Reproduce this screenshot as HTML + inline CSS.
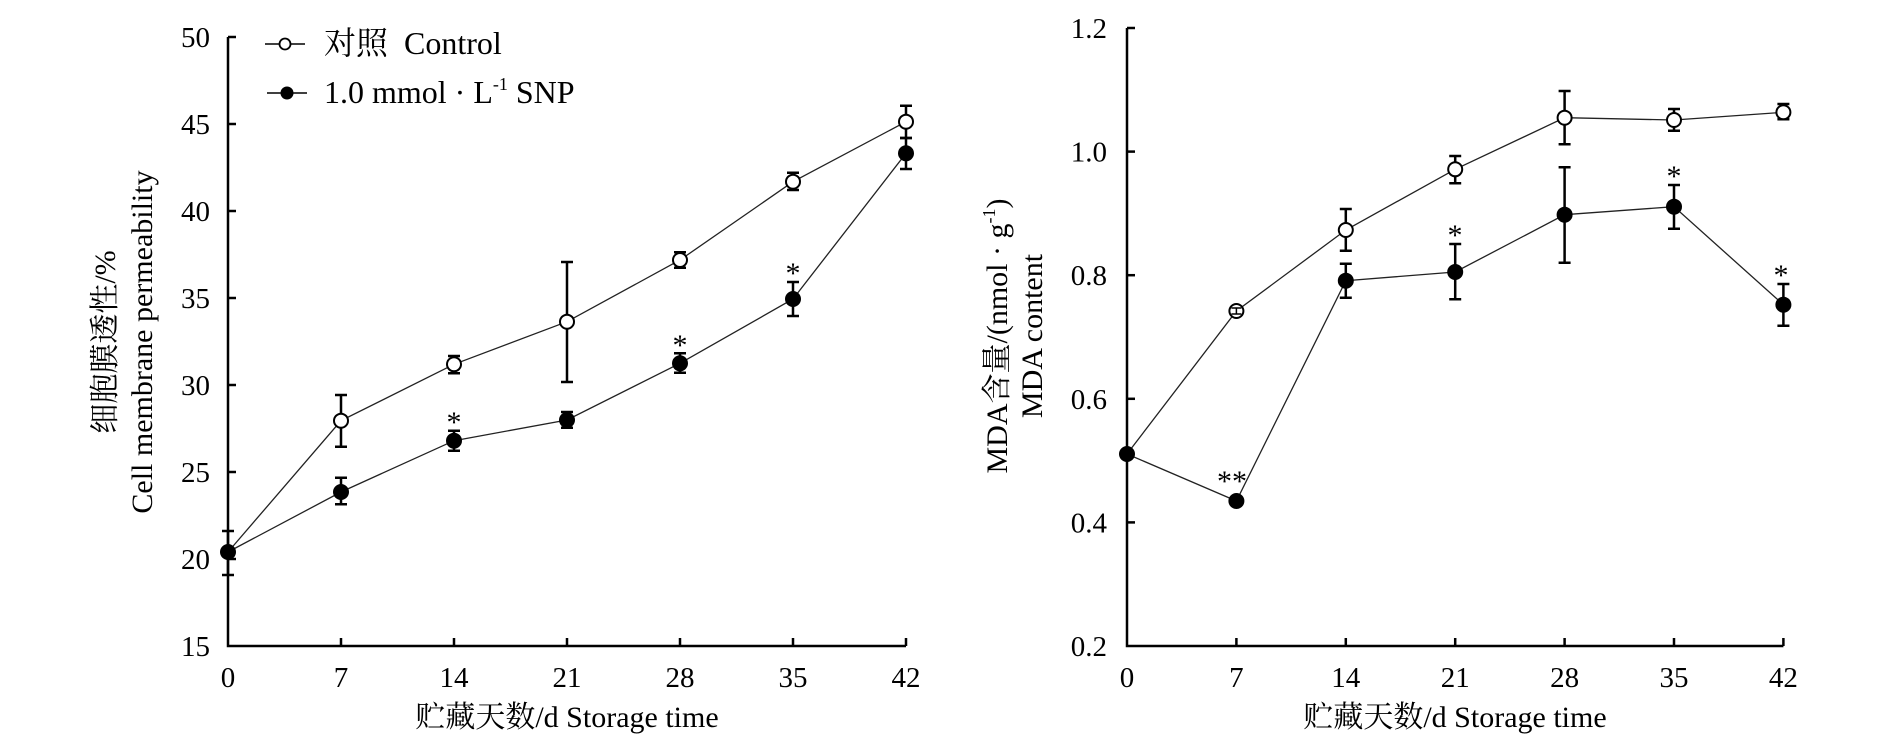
<!DOCTYPE html>
<html><head><meta charset="utf-8"><style>
html,body{margin:0;padding:0;background:#fff;}
svg{display:block;}
text{font-family:"Liberation Serif","Noto Serif CJK SC",serif;fill:#000;}
</style></head><body>
<svg width="1890" height="745" viewBox="0 0 1890 745" xmlns="http://www.w3.org/2000/svg">
<!-- ========== LEFT CHART ========== -->
<g stroke="#000" stroke-width="2.5" fill="none">
  <polyline points="228,37 228,646 906,646"/>
  <line x1="228" y1="37" x2="236" y2="37"/>
  <line x1="228" y1="124" x2="236" y2="124"/>
  <line x1="228" y1="211" x2="236" y2="211"/>
  <line x1="228" y1="298" x2="236" y2="298"/>
  <line x1="228" y1="385" x2="236" y2="385"/>
  <line x1="228" y1="472" x2="236" y2="472"/>
  <line x1="228" y1="559" x2="236" y2="559"/>
  <line x1="341" y1="646" x2="341" y2="638"/>
  <line x1="454" y1="646" x2="454" y2="638"/>
  <line x1="567" y1="646" x2="567" y2="638"/>
  <line x1="680" y1="646" x2="680" y2="638"/>
  <line x1="793" y1="646" x2="793" y2="638"/>
  <line x1="906" y1="646" x2="906" y2="638"/>
</g>
<g font-size="29" text-anchor="end">
  <text x="210" y="47">50</text>
  <text x="210" y="134">45</text>
  <text x="210" y="221">40</text>
  <text x="210" y="308">35</text>
  <text x="210" y="395">30</text>
  <text x="210" y="482">25</text>
  <text x="210" y="569">20</text>
  <text x="210" y="656">15</text>
</g>
<g font-size="29" text-anchor="middle">
  <text x="228" y="687">0</text>
  <text x="341" y="687">7</text>
  <text x="454" y="687">14</text>
  <text x="567" y="687">21</text>
  <text x="680" y="687">28</text>
  <text x="793" y="687">35</text>
  <text x="906" y="687">42</text>
</g>
<text x="567" y="727" font-size="30" text-anchor="middle">贮藏天数/d Storage time</text>
<text x="115" y="342" font-size="30" text-anchor="middle" transform="rotate(-90 115 342)">细胞膜透性/%</text>
<text x="152" y="342" font-size="30" text-anchor="middle" transform="rotate(-90 152 342)">Cell membrane permeability</text>

<g stroke="#222" stroke-width="1.3" fill="none">
  <polyline points="228,552 341,420.7 454,364.3 567,321.7 680,260 793,181.7 906,121.7"/>
  <polyline points="228,552 341,492 454,440.7 567,420 680,363.3 793,299 906,153.3"/>
</g>
<g stroke="#000" stroke-width="2.5" fill="none">
  <path d="M228,531V575M222,531H234M222,575H234"/>
  <path d="M341,395V446.7M335,395H347M335,446.7H347"/>
  <path d="M454,356V373.3M448,356H460M448,373.3H460"/>
  <path d="M567,262V382M561,262H573M561,382H573"/>
  <path d="M680,252.3V267.7M674,252.3H686M674,267.7H686"/>
  <path d="M793,172.7V190M787,172.7H799M787,190H799"/>
  <path d="M906,105.7V138M900,105.7H912M900,138H912"/>
  <path d="M341,477.7V504.3M335,477.7H347M335,504.3H347"/>
  <path d="M454,430.7V450.7M448,430.7H460M448,450.7H460"/>
  <path d="M567,412V427.7M561,412H573M561,427.7H573"/>
  <path d="M680,353.3V372.7M674,353.3H686M674,372.7H686"/>
  <path d="M793,282V316M787,282H799M787,316H799"/>
  <path d="M906,138V169M900,138H912M900,169H912"/>
</g>
<g fill="#fff" stroke="#000" stroke-width="2">
  <circle cx="341" cy="420.7" r="7"/>
  <circle cx="454" cy="364.3" r="7"/>
  <circle cx="567" cy="321.7" r="7"/>
  <circle cx="680" cy="260" r="7"/>
  <circle cx="793" cy="181.7" r="7"/>
  <circle cx="906" cy="121.7" r="7"/>
</g>
<g fill="#000">
  <circle cx="228" cy="552" r="8"/>
  <circle cx="341" cy="492" r="8"/>
  <circle cx="454" cy="440.7" r="8"/>
  <circle cx="567" cy="420" r="8"/>
  <circle cx="680" cy="363.3" r="8"/>
  <circle cx="793" cy="299" r="8"/>
  <circle cx="906" cy="153.3" r="8"/>
</g>
<g font-size="30" text-anchor="middle">
  <text x="454" y="432">*</text>
  <text x="680" y="355">*</text>
  <text x="793" y="283">*</text>
</g>
<line x1="265" y1="44" x2="305" y2="44" stroke="#000" stroke-width="1.5"/>
<circle cx="285" cy="44" r="5.5" fill="#fff" stroke="#000" stroke-width="1.8"/>
<text x="324" y="54" font-size="32">对照&#160; Control</text>
<line x1="267" y1="93" x2="307" y2="93" stroke="#000" stroke-width="1.5"/>
<circle cx="287" cy="93" r="6.5" fill="#000"/>
<text x="324" y="103" font-size="32">1.0 mmol · L<tspan font-size="18" dy="-13">-1</tspan><tspan dy="13"> SNP</tspan></text>

<!-- ========== RIGHT CHART ========== -->
<g stroke="#000" stroke-width="2.5" fill="none">
  <polyline points="1127,28 1127,646 1783.4,646"/>
  <line x1="1127" y1="28" x2="1135" y2="28"/>
  <line x1="1127" y1="151.6" x2="1135" y2="151.6"/>
  <line x1="1127" y1="275.2" x2="1135" y2="275.2"/>
  <line x1="1127" y1="398.8" x2="1135" y2="398.8"/>
  <line x1="1127" y1="522.4" x2="1135" y2="522.4"/>
  <line x1="1236.4" y1="646" x2="1236.4" y2="638"/>
  <line x1="1345.8" y1="646" x2="1345.8" y2="638"/>
  <line x1="1455.2" y1="646" x2="1455.2" y2="638"/>
  <line x1="1564.6" y1="646" x2="1564.6" y2="638"/>
  <line x1="1674" y1="646" x2="1674" y2="638"/>
  <line x1="1783.4" y1="646" x2="1783.4" y2="638"/>
</g>
<g font-size="29" text-anchor="end">
  <text x="1107" y="38">1.2</text>
  <text x="1107" y="161.6">1.0</text>
  <text x="1107" y="285.2">0.8</text>
  <text x="1107" y="408.8">0.6</text>
  <text x="1107" y="532.4">0.4</text>
  <text x="1107" y="656">0.2</text>
</g>
<g font-size="29" text-anchor="middle">
  <text x="1127" y="687">0</text>
  <text x="1236.4" y="687">7</text>
  <text x="1345.8" y="687">14</text>
  <text x="1455.2" y="687">21</text>
  <text x="1564.6" y="687">28</text>
  <text x="1674" y="687">35</text>
  <text x="1783.4" y="687">42</text>
</g>
<text x="1455" y="727" font-size="30" text-anchor="middle">贮藏天数/d Storage time</text>
<text x="1007" y="336" font-size="30" text-anchor="middle" transform="rotate(-90 1007 336)">MDA含量/(nmol · g<tspan font-size="18" dy="-12">-1</tspan><tspan dy="12">)</tspan></text>
<text x="1042" y="336" font-size="30" text-anchor="middle" transform="rotate(-90 1042 336)">MDA content</text>

<g stroke="#222" stroke-width="1.3" fill="none">
  <polyline points="1127,454 1236.4,311 1345.8,230 1455.2,169.3 1564.6,117.7 1674,120 1783.4,112.3"/>
  <polyline points="1127,454 1236.4,501 1345.8,280.7 1455.2,272 1564.6,214.7 1674,206.7 1783.4,304.7"/>
</g>
<g stroke="#000" stroke-width="2.5" fill="none">
  <path d="M1345.8,209V250.7M1339.8,209H1351.8M1339.8,250.7H1351.8"/>
  <path d="M1455.2,156V183.3M1449.2,156H1461.2M1449.2,183.3H1461.2"/>
  <path d="M1564.6,91V144.3M1558.6,91H1570.6M1558.6,144.3H1570.6"/>
  <path d="M1674,109V130.7M1668,109H1680M1668,130.7H1680"/>
  <path d="M1783.4,104V119.3M1777.4,104H1789.4M1777.4,119.3H1789.4"/>
  <path d="M1345.8,263.7V297.7M1339.8,263.7H1351.8M1339.8,297.7H1351.8"/>
  <path d="M1455.2,244V299.3M1449.2,244H1461.2M1449.2,299.3H1461.2"/>
  <path d="M1564.6,167.3V262.7M1558.6,167.3H1570.6M1558.6,262.7H1570.6"/>
  <path d="M1674,185V228.7M1668,185H1680M1668,228.7H1680"/>
  <path d="M1783.4,284V325.7M1777.4,284H1789.4M1777.4,325.7H1789.4"/>
</g>
<g fill="#fff" stroke="#000" stroke-width="2">
  <circle cx="1236.4" cy="311" r="7"/>
  <circle cx="1345.8" cy="230" r="7"/>
  <circle cx="1455.2" cy="169.3" r="7"/>
  <circle cx="1564.6" cy="117.7" r="7"/>
  <circle cx="1674" cy="120" r="7"/>
  <circle cx="1783.4" cy="112.3" r="7"/>
</g>
<path d="M1236.4,308V314M1231.4,308H1241.4M1231.4,314H1241.4" stroke="#000" stroke-width="1.5" fill="none"/>
<g fill="#000">
  <circle cx="1127" cy="454" r="8"/>
  <circle cx="1236.4" cy="501" r="8"/>
  <circle cx="1345.8" cy="280.7" r="8"/>
  <circle cx="1455.2" cy="272" r="8"/>
  <circle cx="1564.6" cy="214.7" r="8"/>
  <circle cx="1674" cy="206.7" r="8"/>
  <circle cx="1783.4" cy="304.7" r="8"/>
</g>
<g font-size="30" text-anchor="middle">
  <text x="1232" y="491">**</text>
  <text x="1455" y="245">*</text>
  <text x="1674" y="186">*</text>
  <text x="1781" y="285">*</text>
</g>
</svg>
</body></html>
